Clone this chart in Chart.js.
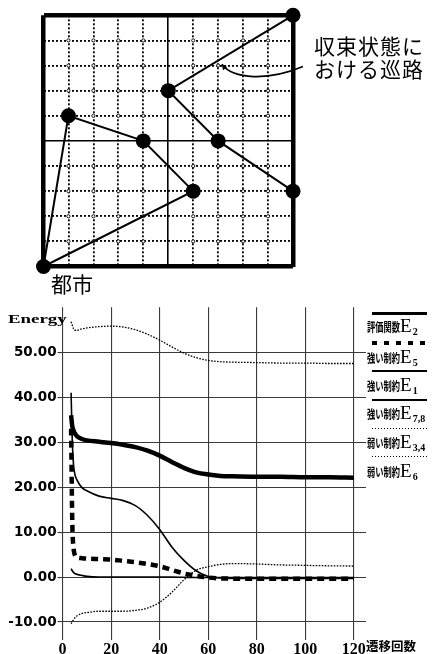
<!DOCTYPE html>
<html lang="ja">
<head>
<meta charset="utf-8">
<script src="https://cdn.jsdelivr.net/npm/chart.js@4.4.1/dist/chart.umd.min.js"></script>
<style>
  html, body { margin: 0; padding: 0; background: #fff; }
  #page { position: relative; width: 439px; height: 654px; overflow: hidden; background: #fff; }
  canvas { position: absolute; left: 0; }
  #tour { top: 0; }
  #energy { top: 290px; }
  .txt { position: absolute; white-space: nowrap; color: #000; line-height: 1; }
  .cjk { font-family: "Noto Sans CJK JP", sans-serif; }
  .note { font-size: 21px; letter-spacing: 1px; left: 314px; }
  #energy-title { left: 8px; top: 311px; font: bold 13px "Liberation Serif", serif;
    transform: scaleX(1.45); transform-origin: left top; }
  #x-title { left: 366px; top: 639.5px; font-size: 12.5px; font-weight: bold; }
  .leg-line { position: absolute; left: 372px; width: 55px; }
  .leg-label { position: absolute; left: 367px; white-space: nowrap;
    font: 19px/19px "Liberation Serif", serif; color: #000; }
  .leg-label .lj { display: inline-block; font: bold 12.5px/1 "Noto Sans CJK JP", sans-serif;
    transform: scaleX(0.66); transform-origin: left bottom; margin-right: -17px; }
  .leg-label .ls { font: bold 10px "Liberation Serif", serif; vertical-align: -3px; margin-left: 1px; }
</style>
</head>
<body>
<div id="page">
  <canvas id="tour" width="439" height="300"></canvas>
  <canvas id="energy" width="439" height="364"></canvas>
  <div class="txt cjk note" style="top:34.5px">収束状態に</div>
  <div class="txt cjk note" style="top:58px">おける巡路</div>
  <div class="txt cjk" style="left:51px; top:273px; font-size:21px">都市</div>
  <div class="txt" id="energy-title">Energy</div>
  <div class="txt cjk" id="x-title">遷移回数</div>
  <div id="legend"></div>
</div>
<script>
// Upper panel: converged tour on a 10 x 10 city grid.
const routeAX = [0, 1, 4, 6, 0];
const routeAY = [0, 6, 5, 3, 0];
const routeBX = [10, 5, 7, 10, 10];
const routeBY = [10, 7, 5, 3, 10];
const cityX = [0, 1, 4, 6, 10, 5, 7, 10];
const cityY = [0, 6, 5, 3, 10, 7, 5, 3];

// Lower panel: energy terms against number of transitions.
const steps = [3.5, 4, 4.5, 5, 6, 8, 10, 15, 20, 25, 30, 35, 40, 45, 50, 55, 60, 65, 70, 80, 90, 100, 110, 120];
const e2 = [36, 33.5, 32.6, 32, 31.3, 30.7, 30.4, 30.1, 29.8, 29.4, 28.9, 28.1, 27.0, 25.6, 24.3, 23.3, 22.8, 22.5, 22.4, 22.3, 22.3, 22.2, 22.2, 22.1];
const e5 = [33, 12, 6.5, 5.0, 4.4, 4.2, 4.1, 4.0, 3.9, 3.6, 3.3, 2.9, 2.4, 1.6, 0.8, 0.3, -0.1, -0.3, -0.35, -0.4, -0.4, -0.4, -0.4, -0.4];
const e1 = [41, 30, 25, 23, 21.5, 19.9, 19.2, 18.0, 17.5, 17.0, 15.9, 13.7, 10.6, 6.7, 3.7, 1.4, 0.1, -0.2, -0.3, -0.3, -0.3, -0.3, -0.3, -0.3];
const e78 = [1.9, 1.4, 1.0, 0.8, 0.6, 0.35, 0.15, 0, 0, 0, 0, 0, 0, 0, -0.05, -0.1, -0.1, -0.1, -0.1, -0.1, -0.1, -0.1, -0.1, -0.1];
const e34 = [56.8, 56, 55.2, 54.9, 54.9, 55.2, 55.4, 55.7, 55.8, 55.6, 55.0, 54.0, 52.7, 51.2, 49.8, 48.8, 48.2, 47.9, 47.8, 47.7, 47.6, 47.6, 47.5, 47.5];
const e6 = [-10.4, -9.9, -9.5, -9.1, -8.6, -8.1, -7.9, -7.6, -7.6, -7.6, -7.4, -6.9, -5.6, -3.4, -0.6, 1.5, 2.3, 2.8, 3.0, 2.9, 2.7, 2.6, 2.5, 2.45];
const yTicks = [-10, 0, 10, 20, 30, 40, 50];
const xTicks = [0, 20, 40, 60, 80, 100, 120];

const INK = "#000";
const GRID = "#3a3a3a";

const SERIES = [
  { jp: "評価関数", sub: "2", values: e2, width: 4.5, dash: [], legend: "thick" },
  { jp: "強い制約", sub: "5", values: e5, width: 4.5, dash: [7, 5], legend: "dashed" },
  { jp: "強い制約", sub: "1", values: e1, width: 1.6, dash: [], legend: "thin" },
  { jp: "強い制約", sub: "7,8", values: e78, width: 1.6, dash: [], legend: "thin" },
  { jp: "弱い制約", sub: "3,4", values: e34, width: 1.3, dash: [1.6, 1.4], legend: "dotted" },
  { jp: "弱い制約", sub: "6", values: e6, width: 1.3, dash: [1.6, 1.4], legend: "dotted" },
];

const pts = (xs, ys) => xs.map((x, i) => ({ x, y: ys[i] }));

// small open rings where two dotted grid lines cross (drawn under the tour)
const gridRings = {
  id: "gridRings",
  beforeDatasetsDraw(chart) {
    const { ctx, scales: { x, y } } = chart;
    ctx.save();
    ctx.fillStyle = "#fff";
    ctx.strokeStyle = INK;
    ctx.lineWidth = 0.9;
    x.ticks.forEach(tx => {
      y.ticks.forEach(ty => {
        if (tx.value % 5 === 0 || ty.value % 5 === 0) return;
        ctx.beginPath();
        ctx.arc(x.getPixelForValue(tx.value), y.getPixelForValue(ty.value), 1.6, 0, Math.PI * 2);
        ctx.fill();
        ctx.stroke();
      });
    });
    ctx.restore();
  },
};

// curved pointer from the note to the tour edge, given in grid units
const POINTER = [[10.4, 7.96], [9.0, 7.38], [7.6, 7.45], [7.15, 8.05]];
const pointer = {
  id: "pointer",
  afterDraw(chart) {
    const { ctx, scales: { x, y } } = chart;
    const p = POINTER.map(([a, b]) => [x.getPixelForValue(a), y.getPixelForValue(b)]);
    ctx.save();
    ctx.strokeStyle = INK;
    ctx.lineWidth = 1.7;
    ctx.beginPath();
    ctx.moveTo(p[0][0], p[0][1]);
    ctx.bezierCurveTo(p[1][0], p[1][1], p[2][0], p[2][1], p[3][0], p[3][1]);
    ctx.stroke();
    const ang = Math.atan2(p[3][1] - p[2][1], p[3][0] - p[2][0]);
    ctx.fillStyle = INK;
    ctx.beginPath();
    ctx.moveTo(p[3][0], p[3][1]);
    ctx.lineTo(p[3][0] - 6 * Math.cos(ang - 0.45), p[3][1] - 6 * Math.sin(ang - 0.45));
    ctx.lineTo(p[3][0] - 6 * Math.cos(ang + 0.45), p[3][1] - 6 * Math.sin(ang + 0.45));
    ctx.closePath();
    ctx.fill();
    ctx.restore();
  },
};

function gridAxis() {
  return {
    type: "linear",
    min: 0,
    max: 10,
    ticks: { display: false, stepSize: 1 },
    afterFit: s => { if (s.isHorizontal()) s.height = 0; else s.width = 0; },
    border: {
      display: false,
      dash: c => (c.tick && c.tick.value % 5 !== 0 ? [2, 2] : []),
    },
    grid: {
      drawTicks: false,
      color: INK,
      lineWidth: c => {
        const v = c.tick ? c.tick.value : 1;
        if (v === 0 || v === 10) return 4.5;
        return v === 5 ? 1.6 : 1.8;
      },
    },
  };
}

function renderTour() {
  const route = {
    type: "line",
    showLine: true,
    borderColor: INK,
    borderWidth: 2,
    pointRadius: 0,
    tension: 0,
    fill: false,
    clip: false,
  };
  new Chart(document.getElementById("tour"), {
    type: "scatter",
    data: {
      datasets: [
        { data: pts(cityX, cityY), pointRadius: 7.5, pointBackgroundColor: INK, pointBorderWidth: 0, clip: false },
        { ...route, data: pts(routeAX, routeAY) },
        { ...route, data: pts(routeBX, routeBY) },
      ],
    },
    options: {
      responsive: false,
      animation: false,
      layout: { padding: { left: 43.5, top: 15.3, right: 146, bottom: 33.5 } },
      plugins: { legend: { display: false }, tooltip: { enabled: false } },
      scales: { x: gridAxis(), y: gridAxis() },
    },
    plugins: [gridRings, pointer],
  });
}

function renderEnergy() {
  new Chart(document.getElementById("energy"), {
    type: "line",
    data: {
      datasets: SERIES.map(s => ({
        label: s.jp + "E" + s.sub,
        data: pts(steps, s.values),
        borderColor: INK,
        borderWidth: s.width,
        borderDash: s.dash,
        pointRadius: 0,
        cubicInterpolationMode: "monotone",
        fill: false,
      })),
    },
    options: {
      responsive: false,
      animation: false,
      layout: { padding: { left: 0, top: 17.3, right: 73, bottom: 0 } },
      plugins: { legend: { display: false }, tooltip: { enabled: false } },
      scales: {
        x: {
          type: "linear",
          min: 0,
          max: 125,
          afterBuildTicks: s => { s.ticks = xTicks.map(v => ({ value: v })); },
          afterFit: s => { s.height = 14; },
          border: { display: false },
          grid: { color: GRID, lineWidth: 1.1, drawTicks: false },
          ticks: {
            color: INK,
            padding: 0,
            maxRotation: 0,
            autoSkip: false,
            font: { family: '"Liberation Serif", serif', weight: "bold", size: 16 },
          },
        },
        y: {
          min: -14,
          max: 60,
          afterBuildTicks: s => { s.ticks = yTicks.map(v => ({ value: v })); },
          afterFit: s => { s.width = 62.6; },
          border: { display: false },
          grid: { color: GRID, lineWidth: 1.1, tickLength: 5 },
          ticks: {
            color: INK,
            padding: 1,
            callback: v => v.toFixed(2),
            font: { family: '"DejaVu Sans", sans-serif', weight: "bold", size: 13.5 },
          },
        },
      },
    },
  });
}

function renderLegend() {
  const tops = [311.5, 341.3, 370.3, 399.3, 427.8, 456];
  const labelTops = [316, 347, 375, 403, 432, 461];
  const looks = {
    thick: "height:3.5px; background:#000;",
    dashed: "height:4px; background:repeating-linear-gradient(to right,#000 0 5px,transparent 5px 12px);",
    thin: "height:1.3px; background:#000;",
    dotted: "height:1.2px; background:repeating-linear-gradient(to right,#000 0 1.5px,transparent 1.5px 3px);",
  };
  document.getElementById("legend").innerHTML = SERIES.map((s, i) => `
    <div class="leg-line" style="top:${tops[i]}px; ${looks[s.legend]}"></div>
    <div class="leg-label" style="top:${labelTops[i]}px"><span class="lj">${s.jp}</span>E<span class="ls">${s.sub}</span></div>
  `).join("");
}

renderTour();
renderEnergy();
renderLegend();
</script>
</body>
</html>
